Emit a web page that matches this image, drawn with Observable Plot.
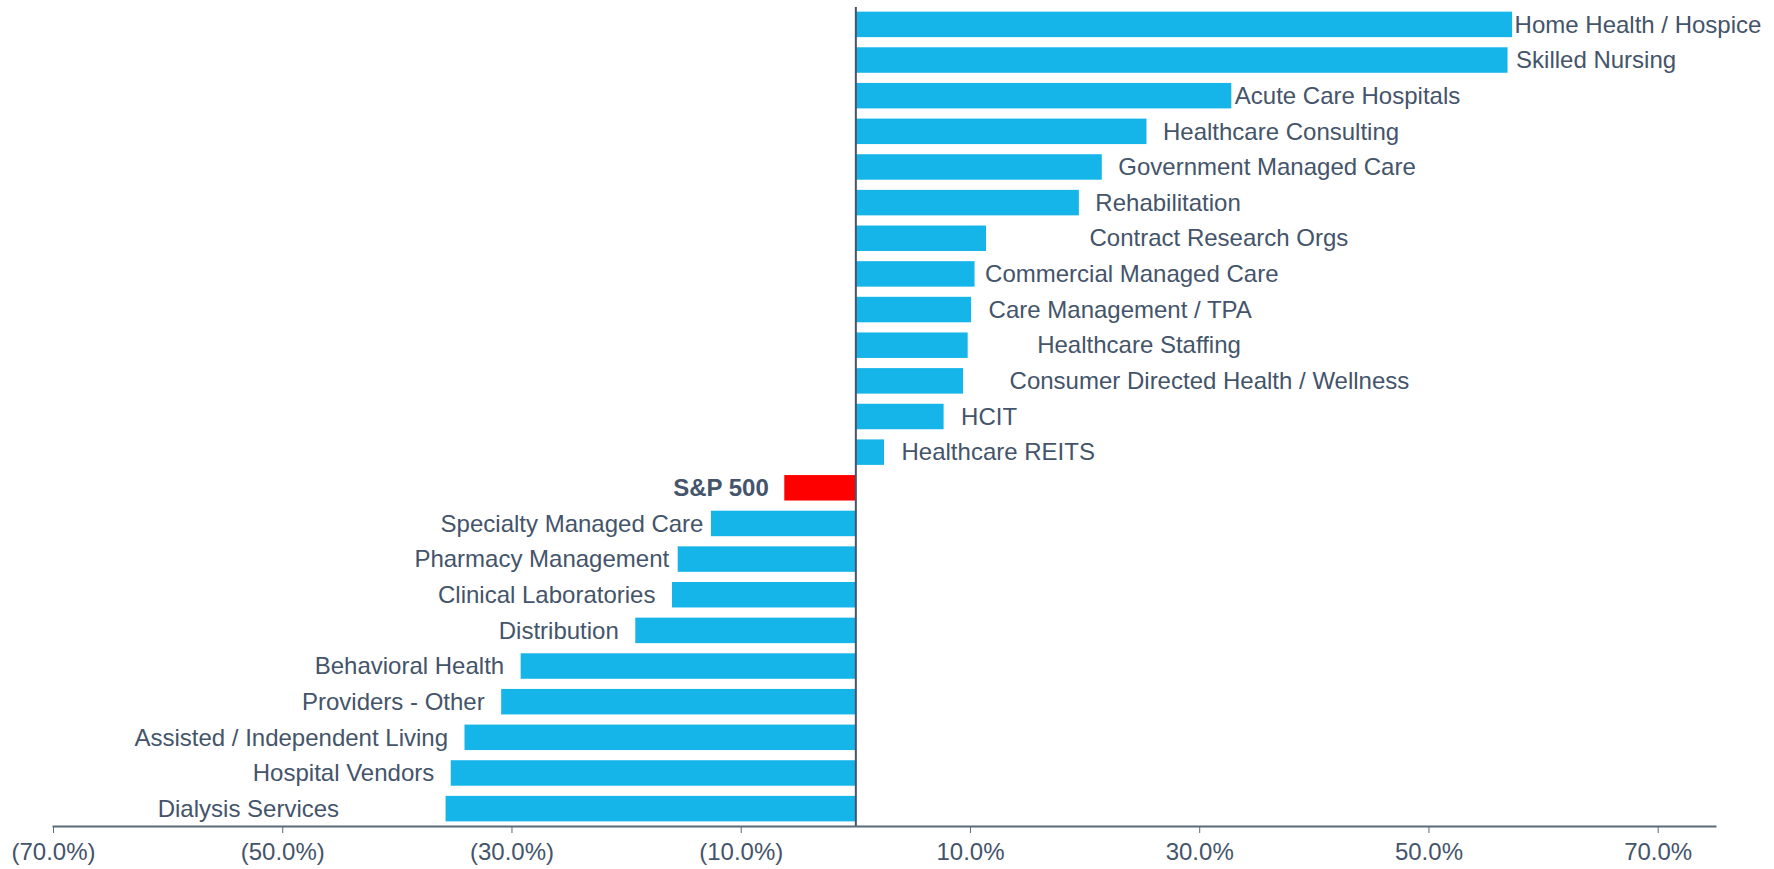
<!DOCTYPE html>
<html>
<head>
<meta charset="utf-8">
<script src="https://cdn.jsdelivr.net/npm/d3@7"></script>
<script src="https://cdn.jsdelivr.net/npm/@observablehq/plot@0.6"></script>
<style>
  html, body { margin: 0; padding: 0; background: #ffffff; }
  #chart { width: 1774px; height: 869px; }
</style>
</head>
<body>
<div id="chart"></div>
<script>
// Categories (top to bottom) and their values (%)
const categories = [
  "Home Health / Hospice", "Skilled Nursing", "Acute Care Hospitals", "Healthcare Consulting",
  "Government Managed Care", "Rehabilitation", "Contract Research Orgs", "Commercial Managed Care",
  "Care Management / TPA", "Healthcare Staffing", "Consumer Directed Health / Wellness", "HCIT",
  "Healthcare REITS", "S&P 500", "Specialty Managed Care", "Pharmacy Management",
  "Clinical Laboratories", "Distribution", "Behavioral Health", "Providers - Other",
  "Assisted / Independent Living", "Hospital Vendors", "Dialysis Services"
];
const values = [
  57.3, 56.9, 32.8, 25.4,
  21.5, 19.5, 11.4, 10.4,
  10.1, 9.8, 9.4, 7.7,
  2.5, -6.2, -12.6, -15.5,
  -16.0, -19.2, -29.2, -30.9,
  -34.1, -35.3, -35.75
];
const highlight = "S&P 500";
const tickValues = [-70, -50, -30, -10, 10, 30, 50, 70];

// label gap from bar end, in px (labels in the original are placed by hand)
const labelGap = [
  2, 8, 3, 16,
  16, 16, 103, 10,
  17, 69, 46, 17,
  17, 16, 8, 9,
  17, 17, 17, 17,
  17, 17, 107
];

const BLUE = "#15b5ea";
const RED = "#ff0000";
const TEXT = "#44546a";
const AXIS = "#596b78";

const data = categories.map((name, i) => ({name, value: values[i], gap: labelGap[i]}));

const fmt = v => v < 0 ? `(${Math.abs(v).toFixed(1)}%)` : `${v.toFixed(1)}%`;

const labelMarks = data.map(d => Plot.text([d], {
  x: "value",
  y: "name",
  text: "name",
  textAnchor: d.value < 0 ? "end" : "start",
  dx: d.value < 0 ? -d.gap : d.gap,
  fill: TEXT,
  fontSize: 24,
  fontWeight: d.name === highlight ? "bold" : "normal"
}));

const chart = Plot.plot({
  width: 1774,
  height: 869,
  marginLeft: 53,
  marginRight: 59,
  marginTop: 7,
  marginBottom: 43,
  style: {fontFamily: "'Liberation Sans', Arial, sans-serif", fontSize: "24px", background: "#ffffff"},
  x: {domain: [-70, 75], axis: null},
  y: {domain: categories, paddingInner: 0.285, paddingOuter: 0.13, round: false, axis: null},
  color: {type: "identity"},
  marks: [
    Plot.barX(data, {x: "value", y: "name", fill: d => d.name === highlight ? RED : BLUE}),
    Plot.ruleX([0], {stroke: TEXT, strokeWidth: 2}),
    Plot.frame({anchor: "bottom", stroke: AXIS, strokeWidth: 2}),
    Plot.axisX({
      ticks: tickValues,
      tickFormat: fmt,
      tickSize: 7,
      tickPadding: 9,
      stroke: AXIS,
      color: TEXT,
      fontSize: 24,
      label: null
    }),
    ...labelMarks
  ]
});

document.getElementById("chart").appendChild(chart);
</script>
</body>
</html>
